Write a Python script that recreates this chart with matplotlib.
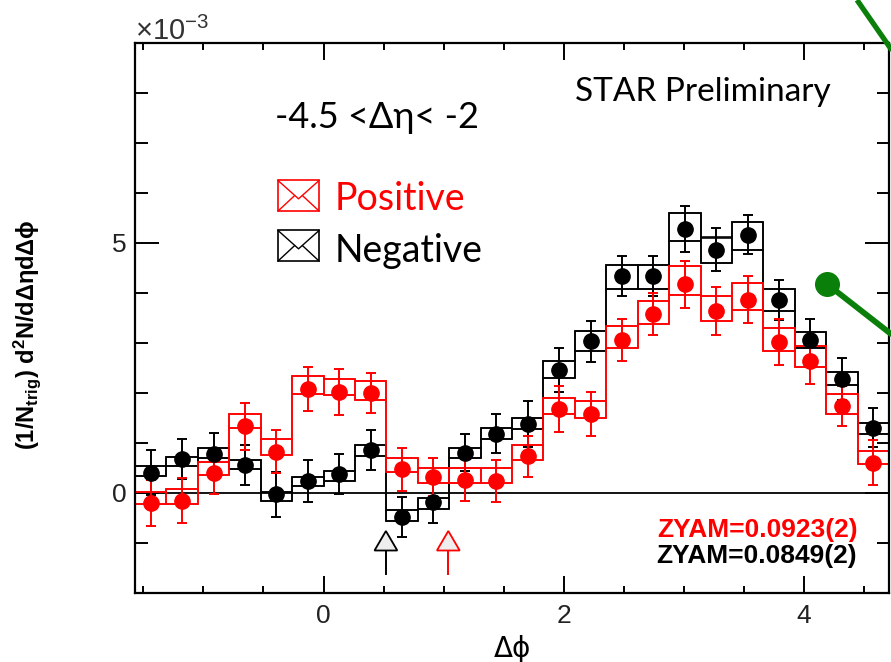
import numpy as np
import matplotlib
matplotlib.use("Agg")
import matplotlib.pyplot as plt
from matplotlib.lines import Line2D
from matplotlib.patches import Rectangle, Polygon

plt.rcParams['font.family'] = ['Liberation Sans', 'DejaVu Sans']
plt.rcParams['mathtext.fontset'] = 'custom'
plt.rcParams['mathtext.rm'] = 'Liberation Sans'
plt.rcParams['mathtext.bf'] = 'Liberation Sans:bold'
plt.rcParams['mathtext.it'] = 'Liberation Sans:italic'

# 24 bins over -pi/2 .. 3pi/2, values in units of 1e-3
n_bins = 24
edges = np.linspace(-np.pi / 2, 3 * np.pi / 2, n_bins + 1)
centers = 0.5 * (edges[1:] + edges[:-1])
bw = edges[1] - edges[0]

neg_y = [0.41, 0.68, 0.78, 0.56, -0.02, 0.25, 0.38, 0.86, -0.47, -0.17, 0.81, 1.19,
         1.38, 2.47, 3.04, 4.34, 4.34, 5.29, 4.87, 5.17, 3.87, 3.07, 2.29, 1.31]
neg_err = [0.45, 0.40, 0.43, 0.40, 0.45, 0.42, 0.40, 0.40, 0.40, 0.42, 0.37, 0.39,
           0.46, 0.44, 0.41, 0.40, 0.40, 0.46, 0.43, 0.39, 0.40, 0.42, 0.42, 0.39]
neg_hi = [0.55, 0.73, 0.90, 0.66, 0.03, 0.33, 0.45, 0.96, -0.34, -0.09, 0.91, 1.30,
          1.51, 2.64, 3.24, 4.57, 4.57, 5.60, 5.11, 5.42, 4.09, 3.22, 2.43, 1.41]
neg_lo = [0.35, 0.55, 0.71, 0.48, -0.15, 0.15, 0.25, 0.74, -0.55, -0.32, 0.70, 1.08,
          1.28, 2.31, 2.85, 4.09, 4.09, 5.05, 4.60, 4.87, 3.64, 2.91, 2.16, 1.18]

pos_y = [-0.20, -0.15, 0.41, 1.34, 0.83, 2.09, 2.03, 2.01, 0.48, 0.33, 0.26, 0.25,
         0.74, 1.68, 1.58, 3.07, 3.58, 4.18, 3.64, 3.87, 3.03, 2.65, 1.74, 0.61]
pos_err = [0.46, 0.45, 0.42, 0.47, 0.43, 0.44, 0.46, 0.40, 0.43, 0.38, 0.42, 0.42,
           0.41, 0.46, 0.44, 0.42, 0.42, 0.47, 0.48, 0.47, 0.46, 0.46, 0.40, 0.45]
pos_hi = [0.03, 0.09, 0.63, 1.58, 1.08, 2.34, 2.29, 2.24, 0.71, 0.51, 0.51, 0.51,
          0.97, 1.91, 1.84, 3.34, 3.85, 4.54, 3.94, 4.20, 3.30, 2.94, 1.99, 0.85]
pos_lo = [-0.22, -0.22, 0.37, 1.30, 0.77, 1.99, 1.96, 1.87, 0.43, 0.21, 0.21, 0.21,
          0.66, 1.58, 1.51, 2.91, 3.38, 3.97, 3.45, 3.67, 2.85, 2.52, 1.59, 0.58]

# ZYAM positions (arrows)
arrow_x = {'black': 0.52, 'red': 1.04}

fig = plt.figure(figsize=(8.91, 6.62), dpi=100)
ax = fig.add_axes([135 / 891, 1 - 593 / 662, 754 / 891, 550 / 662])

ax.axhline(0, color='black', lw=1.3, zorder=1)

# systematic boxes: upper + lower step lines and per-bin box sides
for lo, hi, c in [(neg_lo, neg_hi, 'black'), (pos_lo, pos_hi, 'red')]:
    lo = np.array(lo)
    hi = np.array(hi)
    ax.bar(centers, hi - lo, width=bw, bottom=lo, fill=False, edgecolor=c, linewidth=1.15, zorder=2)
    ax.stairs(hi, edges, color=c, lw=1.15, zorder=2)
    ax.stairs(lo, edges, color=c, lw=1.15, zorder=2)

for y, err, c in [(neg_y, neg_err, 'black'), (pos_y, pos_err, 'red')]:
    ax.errorbar(centers, y, yerr=err, fmt='o', color=c, ms=11, capsize=3.5,
                elinewidth=1.4, capthick=1.4, zorder=3)

# ZYAM arrows
for c, xa in arrow_x.items():
    ax.plot([xa, xa], [-1.15, -1.62], color=c, lw=1.4, zorder=3)
    ax.add_patch(Polygon([[xa - 0.095, -1.15], [xa + 0.095, -1.15], [xa, -0.76]],
                         closed=True, facecolor='#eeeeee', edgecolor=c, lw=1.3, zorder=3))

ax.set_xlim(-np.pi / 2, 3 * np.pi / 2)
ax.set_ylim(-2, 9)
ax.set_xticks([0, 2, 4])
ax.set_xticks(np.arange(-1.5, 4.75, 0.5), minor=True)
ax.set_yticks([0, 5])
ax.set_yticks(np.arange(-2, 10, 1), minor=True)
ax.tick_params(axis='both', which='both', direction='in', top=True, right=True,
               width=1.4, labelsize=19, labelcolor='#222222')
ax.tick_params(axis='x', which='major', length=12, pad=8)
ax.tick_params(axis='x', which='minor', length=5)
ax.tick_params(axis='y', which='major', length=17, pad=6)
ax.tick_params(axis='y', which='minor', length=9)
for s in ax.spines.values():
    s.set_linewidth(1.6)

ax.set_xlabel('Δϕ', fontsize=20, family=['DejaVu Sans'])
ax.xaxis.set_label_coords(0.5, -0.076)
ax.set_ylabel(r'(1/N$_{\mathbf{trig}}$) d$^{\mathbf{2}}$N/dΔηdΔϕ', fontsize=17, fontweight='bold',
              family=['Liberation Sans', 'DejaVu Sans'])
ax.yaxis.set_label_coords(-0.122, 0.47)

ax.text(0.0, 1.0055, r'×10$^{-3}$', transform=ax.transAxes, fontsize=21,
        color='#333333', ha='left', va='baseline')

calib = ['Lato', 'DejaVu Sans']
ax.text(0.1857, 0.846, '-4.5 <Δη< -2', transform=ax.transAxes, fontsize=26,
        family=calib, ha='left', va='baseline')
ax.text(0.5836, 0.895, 'STAR Preliminary', transform=ax.transAxes, fontsize=24,
        family=calib, ha='left', va='baseline')
ax.text(0.2653, 0.6964, 'Positive', transform=ax.transAxes, fontsize=27,
        family=calib, color='red', ha='left', va='baseline')
ax.text(0.2653, 0.6024, 'Negative', transform=ax.transAxes, fontsize=27,
        family=calib, color='black', ha='left', va='baseline')

# envelope-like legend icons
for c, y0 in [('red', 0.6945), ('black', 0.6036)]:
    x0, w, h = 0.1897, 0.0544, 0.0555
    ax.add_patch(Rectangle((x0, y0), w, h, transform=ax.transAxes, fill=False,
                           edgecolor=c, lw=1.2, clip_on=False))
    ax.add_line(Line2D([x0, x0 + w / 2, x0 + w], [y0 + h, y0 + 0.4 * h, y0 + h],
                       transform=ax.transAxes, color=c, lw=1.0, clip_on=False))
    ax.add_line(Line2D([x0, x0 + 0.4 * w], [y0, y0 + 0.5 * h],
                       transform=ax.transAxes, color=c, lw=1.0, clip_on=False))
    ax.add_line(Line2D([x0 + w, x0 + 0.6 * w], [y0, y0 + 0.5 * h],
                       transform=ax.transAxes, color=c, lw=1.0, clip_on=False))

ax.text(0.9589, 0.1024, 'ZYAM=0.0923(2)', transform=ax.transAxes, fontsize=19,
        fontweight='bold', color='red', ha='right', va='baseline')
ax.text(0.9576, 0.054, 'ZYAM=0.0849(2)', transform=ax.transAxes, fontsize=19,
        fontweight='bold', color='black', ha='right', va='baseline')

# green overlay lines from the slide
green = '#0a800a'
fig.add_artist(Line2D([857 / 891, 900 / 891], [1.0, 1 - 62 / 662], transform=fig.transFigure,
                      color=green, lw=3.8, solid_capstyle='butt'))
fig.add_artist(Line2D([827 / 891, 900 / 891], [1 - 284 / 662, 1 - 341 / 662], transform=fig.transFigure,
                      color=green, lw=4.2, solid_capstyle='butt'))
fig.add_artist(Line2D([827 / 891], [1 - 284 / 662], transform=fig.transFigure,
                      color=green, marker='o', ms=17, lw=0))

fig.savefig('out.png', dpi=100)
